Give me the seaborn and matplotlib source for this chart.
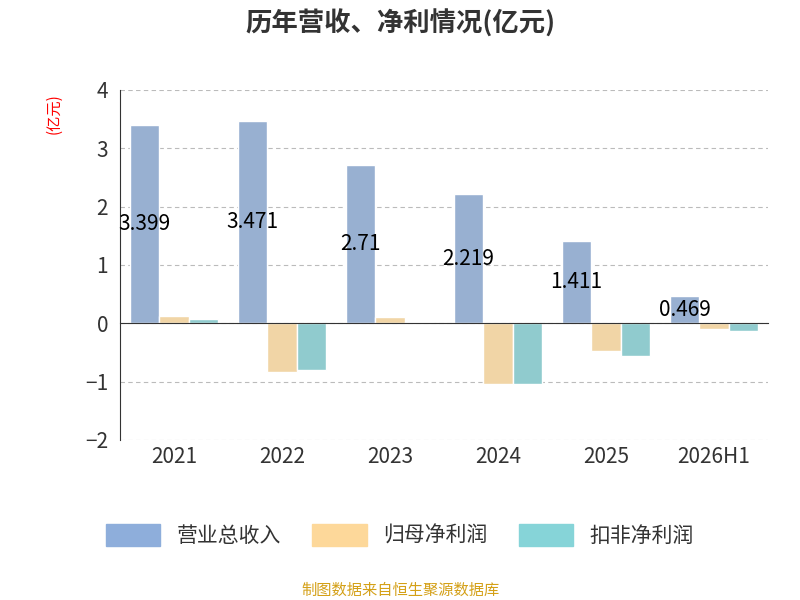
import matplotlib
matplotlib.use('Agg')
import matplotlib.pyplot as plt
import seaborn as sns
import pandas as pd

years = ['2021', '2022', '2023', '2024', '2025', '2026H1']
revenue = [3.399, 3.471, 2.71, 2.219, 1.411, 0.469]
net_profit = [0.12, -0.83, 0.10, -1.05, -0.48, -0.10]
net_profit_deducted = [0.07, -0.81, 0.02, -1.05, -0.57, -0.13]
series = ['营业总收入', '归母净利润', '扣非净利润']
colors = ['#8eaedb', '#fdd89a', '#86d4d8']

sns.set_style('white')
plt.rcParams['font.family'] = ['Noto Sans CJK SC', 'DejaVu Sans']

df = pd.DataFrame({
    'year': years * 3,
    'value': revenue + net_profit + net_profit_deducted,
    'series': [s for s in series for _ in years],
})

fig = plt.figure(figsize=(8, 6), dpi=100)
ax = fig.add_axes([0.15, 0.267, 0.81, 0.583])
sns.barplot(data=df, x='year', y='value', hue='series', palette=colors,
            width=0.82, ax=ax, legend=False)

ax.set_ylim(-2, 4)
ax.set_xlim(-0.5, len(years) - 0.5)
ax.set_yticks(range(-2, 5))
ax.tick_params(axis='y', labelsize=15, colors='#333333', length=5, direction='out')
ax.yaxis.grid(True, linestyle=(0, (4, 3)), color='#bbbbbb')
ax.set_axisbelow(True)
for s in ['top', 'right']:
    ax.spines[s].set_visible(False)
ax.spines['left'].set_color('#333333')
ax.spines['bottom'].set_position(('data', 0))
ax.spines['bottom'].set_color('#333333')
ax.set_xticks([i - 0.5 for i in range(len(years) + 1)])
ax.set_xticklabels([])
ax.tick_params(axis='x', length=5, direction='out', colors='#333333')
for i, y in enumerate(years):
    ax.text(i, -2.1, y, ha='center', va='top', fontsize=15, color='#333333')
ax.set_xlabel('')
ax.set_ylabel('')

bar_w = 0.82 / 3
for i, v in enumerate(revenue):
    ax.text(i - bar_w, v / 2, f'{v:g}', ha='center', va='center', fontsize=15, color='black')

fig.text(0.5, 0.96, '历年营收、净利情况(亿元)', ha='center', va='center',
         fontsize=19, fontweight='bold', color='#333333')
fig.text(0.068, 0.81, '(亿元)', rotation=90, ha='center', va='center', fontsize=11, color='red')

handles = [plt.Rectangle((0, 0), 1, 1, color=c) for c in colors]
fig.legend(handles, series, loc='center', bbox_to_anchor=(0.5, 0.108), ncol=3,
           frameon=False, fontsize=15, handlelength=2.6, handleheight=1.3,
           columnspacing=1.5, labelcolor='#333333')
fig.text(0.5, 0.017, '制图数据来自恒生聚源数据库', ha='center', va='center',
         fontsize=11, color='#d4a017')

fig.savefig('out.png', dpi=100)
